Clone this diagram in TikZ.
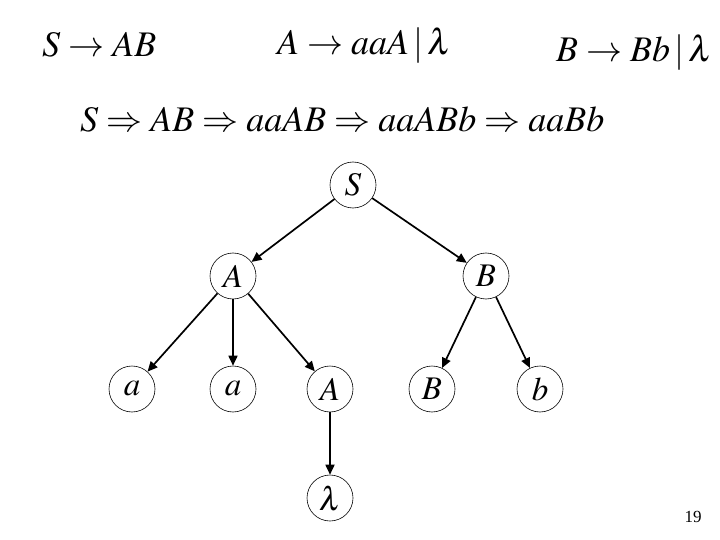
\documentclass[tikz,border=0pt]{standalone}
\usepackage{mathptmx}
\usepackage[no-math]{fontspec}
\setmainfont{Liberation Serif}
\usetikzlibrary{arrows.meta}

\begin{document}
\begin{tikzpicture}[x=1pt,y=-1pt,
  rule/.style={anchor=base west,inner sep=0pt,font=\fontsize{36}{40}\selectfont},
  vtx/.style={circle,draw,line width=0.6pt,minimum size=46pt,inner sep=0pt,font=\fontsize{33}{36}\selectfont},
  edge/.style={-{Triangle[length=10pt,width=9pt]},line width=1.7pt}]
  \useasboundingbox (0,0) rectangle (720,540);
  % grammar and derivation
  \node[rule] (r1) at (42,57) {$S\to AB$};
  \node[rule] (r2) at (277,55) {$A\to aaA\,|\,\lambda$};
  \node[rule] (r3) at (556,62) {$B\to Bb\,|\,\lambda$};
  \node[rule] (der) at (80,132) {$S\Rightarrow AB\Rightarrow aaAB\Rightarrow aaABb\Rightarrow aaBb$};
  % derivation tree
  \node[vtx] (S) at (353,185) {$S$};
  \node[vtx] (A) at (233,276) {$A$};
  \node[vtx] (B) at (486,276) {$B$};
  \node[vtx] (a1) at (132,389) {$a$};
  \node[vtx] (a2) at (233,389) {$a$};
  \node[vtx] (A2) at (330,389) {$A$};
  \node[vtx] (B2) at (432,389) {$B$};
  \node[vtx] (b) at (540,389) {$b$};
  \node[vtx] (lam) at (330,498) {$\lambda$};
  \draw[edge] (S)--(A); \draw[edge] (S)--(B);
  \draw[edge] (A)--(a1); \draw[edge] (A)--(a2); \draw[edge] (A)--(A2);
  \draw[edge] (B)--(B2); \draw[edge] (B)--(b);
  \draw[edge] (A2)--(lam);
  \node[font=\fontsize{17}{20}\selectfont] (pg) at (693,517) {19};
\end{tikzpicture}
\end{document}
